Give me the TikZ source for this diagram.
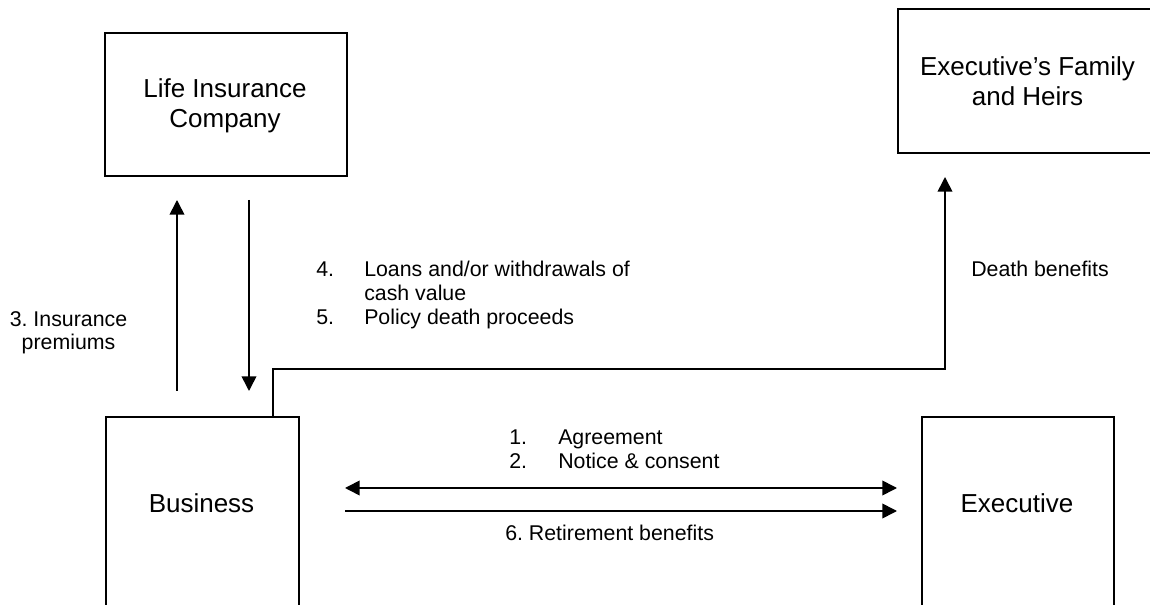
\documentclass[tikz,border=0pt]{standalone}
\usepackage{fontspec}
\setmainfont{Liberation Sans}
\usetikzlibrary{arrows.meta}
\frenchspacing
\begin{document}
\begin{tikzpicture}[x=0.75pt,y=-0.75pt,
  box/.style={draw,line width=1.2pt,inner sep=0pt,anchor=north west},
  conn/.style={line width=1.2pt},
  arr/.style={conn,-{Triangle[length=11pt,width=11pt]}},
  darr/.style={conn,{Triangle[length=11pt,width=11pt]}-{Triangle[length=11pt,width=11pt]}},
  big/.style={inner sep=0pt,anchor=base,font=\fontsize{19.5}{22.5}\selectfont},
  small/.style={inner sep=0pt,font=\fontsize{16}{18}\selectfont}]
\useasboundingbox (0,0) rectangle (1150,605);
\clip (0,0) rectangle (1150,605);
% boxes
\node[box,minimum width=181.5pt,minimum height=107.25pt] (lic) at (104,32) {};
\node[box,minimum width=195.75pt,minimum height=108pt] (fam) at (897,8) {};
\node[box,minimum width=144.75pt,minimum height=225pt] (biz) at (105,416) {};
\node[box,minimum width=144pt,minimum height=225pt] (exe) at (921,416) {};
% box texts
\node[big] (licT) at (225,98) {\begin{tabular}[t]{@{}c@{}}Life Insurance\\Company\end{tabular}};
\node[big] (famT) at (1027.5,76) {\begin{tabular}[t]{@{}c@{}}Executive’s Family\\and Heirs\end{tabular}};
\node[big] (bizT) at (201.5,513) {Business};
\node[big] (exeT) at (1017,513) {Executive};
% connector ends
\coordinate (upS) at (177,391);
\coordinate (upE) at (177,200);
\coordinate (dnS) at (249,200);
\coordinate (dnE) at (249,391);
\coordinate (cS) at (273,416);
\coordinate (cE) at (945,177);
\coordinate (aL) at (345,488);
\coordinate (aR) at (897,488);
\coordinate (bL) at (345,511);
\coordinate (bR) at (897,511);
% connectors
\draw[arr] (upS) -- (upE);
\draw[arr] (dnS) -- (dnE);
\draw[arr] (cS) -- ++(0,-47) -| (cE);
\draw[darr] (aL) -- (aR);
\draw[arr] (bL) -- (bR);
% labels
\node[small,anchor=base] (l3) at (68.5,327) {\fontsize{16}{16.5}\selectfont\begin{tabular}[t]{@{}c@{}}3. Insurance\\premiums\end{tabular}};
\node[small,anchor=base west] (l45) at (316,277) {\begin{tabular}[t]{@{}l@{}}\makebox[36pt][l]{4.}Loans and/or withdrawals of\\\hspace*{36pt}cash value\\\makebox[36pt][l]{5.}Policy death proceeds\end{tabular}};
\node[small,anchor=base west] (ld) at (971,277) {Death benefits};
\node[small,anchor=base west] (l12) at (509,445) {\begin{tabular}[t]{@{}l@{}}\makebox[36.75pt][l]{1.}Agreement\\\makebox[36.75pt][l]{2.}Notice \& consent\end{tabular}};
\node[small,anchor=base west] (l6) at (505,541) {6. Retirement benefits};
\end{tikzpicture}
\end{document}
